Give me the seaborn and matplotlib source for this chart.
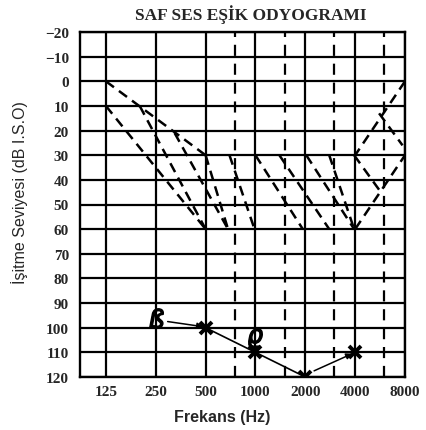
import pandas as pd
import matplotlib.pyplot as plt
import seaborn as sns

# frequency grid (Hz) and hearing level grid (dB)
freq_ticks = [125, 250, 500, 1000, 2000, 4000, 8000]
freq_mid = [750, 1500, 3000, 6000]
db_ticks = list(range(-20, 121, 10))
db_labels = ["\u221220", "\u221210"] + [str(v) for v in range(0, 121, 10)]

# air conduction (X) thresholds
air_freq = [500, 1000, 2000, 4000]
air_db = [100, 110, 120, 110]

# bone conduction marks
bone_freq = [250, 1000]
bone_db = [96, 104]
bone_mark = ["$\u00df$", "$\u03f1$"]

# arrows (start -> end)
arr_f0 = [295, 2260]
arr_d0 = [97.5, 117.5]
arr_f1 = [485, 3850]
arr_d1 = [99.6, 110.5]

# hand-drawn hatched zone, one dashed segment per row
seg_f0 = [125, 125, 200, 325, 500, 697, 1000, 1395, 2028, 2790, 3945, 5580, 4000, 8000]
seg_d0 = [0, 10, 10, 21, 30, 30, 30, 30, 30, 30, 30, 13, 60, 0]
seg_f1 = [500, 500, 500, 683, 683, 987, 1932, 2790, 3945, 3945, 5580, 7730, 8000, 4000]
seg_d1 = [30, 60, 60, 60, 60, 60, 60, 60, 60, 60, 44, 26, 30, 30]

rows = []
for i in range(len(seg_f0)):
    rows.append({"seg": i, "freq": seg_f0[i], "db": seg_d0[i]})
    rows.append({"seg": i, "freq": seg_f1[i], "db": seg_d1[i]})
hatch = pd.DataFrame(rows)

sns.set_style("white")
fig = plt.figure(figsize=(4.26, 4.31), dpi=100)
ax = fig.add_axes([80 / 426, 1 - 378 / 431, 325 / 426, 345 / 431])
ax.set_xscale("log", base=2)
ax.set_xlim(87.2, 8000)
ax.set_ylim(120, -20)

# grid
for f in freq_ticks:
    ax.axvline(f, color="black", lw=1.6, zorder=1)
for f in freq_mid:
    ax.axvline(f, color="black", lw=1.6, ls=(0, (5, 3.5)), zorder=1)
for d in db_ticks:
    ax.axhline(d, color="black", lw=1.6, zorder=1)

sns.lineplot(data=hatch, x="freq", y="db", units="seg", estimator=None, sort=False,
             color="black", lw=1.8, linestyle=(0, (4, 2.5)), ax=ax, zorder=2)

# air conduction line 500-2000 and X marks
sns.lineplot(x=air_freq[:3], y=air_db[:3], color="black", lw=1.2, sort=False, ax=ax, zorder=3)
ax.plot(air_freq, air_db, ls="none", marker="x", ms=9, mew=2.8, color="black", zorder=4)

for f, d, m in zip(bone_freq, bone_db, bone_mark):
    ax.plot(f, d, ls="none", marker=m, ms=14, color="black", zorder=4)

for i in range(len(arr_f0)):
    ax.annotate("", xy=(arr_f1[i], arr_d1[i]), xytext=(arr_f0[i], arr_d0[i]),
                arrowprops=dict(arrowstyle="-|>", color="black", lw=1.1,
                                mutation_scale=9, shrinkA=0, shrinkB=0),
                zorder=4)

ax.set_xticks(freq_ticks)
ax.set_xticklabels([str(f) for f in freq_ticks])
ax.set_xticks([], minor=True)
ax.set_yticks(db_ticks)
ax.set_yticklabels(db_labels)
ax.tick_params(length=0)
ax.tick_params(axis="y", pad=8)
ax.tick_params(axis="x", pad=6)
for lab in ax.get_xticklabels() + ax.get_yticklabels():
    lab.set_fontfamily("Liberation Serif")
    lab.set_fontweight("bold")
    lab.set_fontsize(11)

for s in ax.spines.values():
    s.set_color("black")
    s.set_linewidth(1.7)

ax.set_xlabel("Frekans (Hz)", family="Liberation Sans", weight="bold", fontsize=11.5, labelpad=8)
ax.xaxis.label.set_position(((222 - 80) / 325, 0))
ax.set_ylabel("\u0130\u015fitme Seviyesi (dB I.S.O)", family="Liberation Sans", fontsize=11.5,
              labelpad=12)
ax.yaxis.label.set_position((0, (378 - 193) / 345))

fig.text(251 / 426, 1 - 15 / 431, "SAF SES E\u015e\u0130K ODYOGRAMI", ha="center", va="center",
         family="Liberation Serif", weight="bold", fontsize=12.5)

fig.savefig("out.png", dpi=100)
